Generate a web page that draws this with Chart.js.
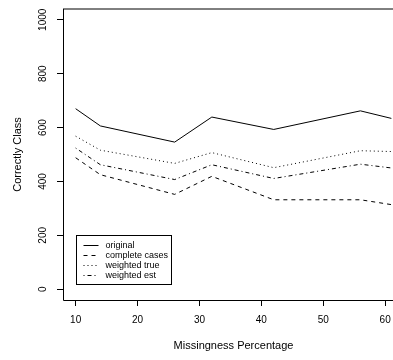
<!DOCTYPE html>
<html>
<head>
<meta charset="utf-8">
<script src="https://cdn.jsdelivr.net/npm/chart.js@4"></script>
<style>
  html, body { margin: 0; padding: 0; background: #fff; overflow: hidden; }
</style>
</head>
<body>
<canvas id="chart" width="404" height="360"></canvas>
<script>
const missingness = [10, 14, 26, 32, 42, 56, 61];
const original = [670, 606, 546, 639, 593, 662, 634];
const completeCases = [488, 425, 352, 419, 332, 332, 314];
const weightedTrue = [568, 516, 467, 507, 451, 514, 511];
const weightedEst = [524, 462, 407, 462, 411, 464, 450];
const xTicks = [10, 20, 30, 40, 50, 60];
const yTicks = [0, 200, 400, 600, 800, 1000];

Chart.defaults.font.family = '"Liberation Sans", Arial, sans-serif';
Chart.defaults.color = '#000';

function series(label, values, dash) {
    return {
        label: label,
        data: values.map((v, i) => ({ x: missingness[i], y: v })),
        borderColor: '#000',
        borderWidth: 1,
        borderDash: dash,
        pointRadius: 0,
        fill: false,
        tension: 0
    };
}

// plot box like R's bty="o"
const boxPlugin = {
    id: 'box',
    afterDraw(chart) {
        const { ctx, chartArea: a } = chart;
        ctx.save();
        ctx.strokeStyle = '#000';
        ctx.lineWidth = 1;
        ctx.beginPath();
        ctx.moveTo(a.left + 0.5, a.top);
        ctx.lineTo(a.left + 0.5, a.bottom + 0.5);
        ctx.lineTo(a.right, a.bottom + 0.5);
        ctx.moveTo(a.left, a.top);
        ctx.lineTo(a.right, a.top);
        ctx.moveTo(a.right - 0.5, a.top);
        ctx.lineTo(a.right - 0.5, a.bottom);
        ctx.stroke();
        ctx.restore();
    }
};

// legend placed at (10, 200) in data units
const legendPlugin = {
    id: 'rlegend',
    afterDraw(chart) {
        const { ctx } = chart;
        const bx = Math.round(chart.scales.x.getPixelForValue(10)) + 0.5;
        const by = Math.round(chart.scales.y.getPixelForValue(200)) + 0.5;
        ctx.save();
        ctx.strokeStyle = '#000';
        ctx.lineWidth = 1;
        ctx.setLineDash([]);
        ctx.strokeRect(bx, by, 95, 49);
        ctx.font = '9px "Liberation Sans", Arial, sans-serif';
        ctx.fillStyle = '#000';
        ctx.textBaseline = 'middle';
        chart.data.datasets.forEach((ds, i) => {
            const y = by + 10 + i * 10;
            ctx.setLineDash(ds.borderDash || []);
            ctx.beginPath();
            ctx.moveTo(bx + 7, y);
            ctx.lineTo(bx + 22, y);
            ctx.stroke();
            ctx.fillText(ds.label, bx + 29, y);
        });
        ctx.restore();
    }
};

new Chart(document.getElementById('chart').getContext('2d'), {
    type: 'line',
    data: {
        datasets: [
            series('original', original, []),
            series('complete cases', completeCases, [4, 4]),
            series('weighted true', weightedTrue, [1, 3]),
            series('weighted est', weightedEst, [1, 3, 4, 3])
        ]
    },
    options: {
        responsive: false,
        animation: false,
        layout: { padding: { top: 6, right: 0, bottom: 0, left: 0 } },
        plugins: {
            legend: { display: false },
            tooltip: { enabled: false }
        },
        scales: {
            x: {
                type: 'linear',
                min: 7.96,
                max: 63.04,
                afterBuildTicks: s => { s.ticks = xTicks.map(v => ({ value: v })); },
                afterFit: s => { s.height = 60; },
                grid: { drawOnChartArea: false, tickLength: 6, color: '#000' },
                border: { display: false },
                ticks: { font: { size: 10 }, color: '#000', padding: 8, maxRotation: 0, autoSkip: false, callback: v => String(v) },
                title: { display: true, text: 'Missingness Percentage', font: { size: 11 }, color: '#000', padding: { top: 0, bottom: 7 } }
            },
            y: {
                type: 'linear',
                min: -40,
                max: 1040,
                afterBuildTicks: s => { s.ticks = yTicks.map(v => ({ value: v })); },
                afterFit: s => { s.width = 63; },
                grid: { drawOnChartArea: false, tickLength: 6, color: '#000' },
                border: { display: false },
                ticks: { font: { size: 10 }, color: '#000', padding: 3, minRotation: 90, maxRotation: 90, crossAlign: 'center', autoSkip: false, callback: v => String(v) },
                title: { display: true, text: 'Correctly Class', font: { size: 11 }, color: '#000', padding: { top: 11, bottom: 0 } }
            }
        }
    },
    plugins: [boxPlugin, legendPlugin]
});
</script>
</body>
</html>
